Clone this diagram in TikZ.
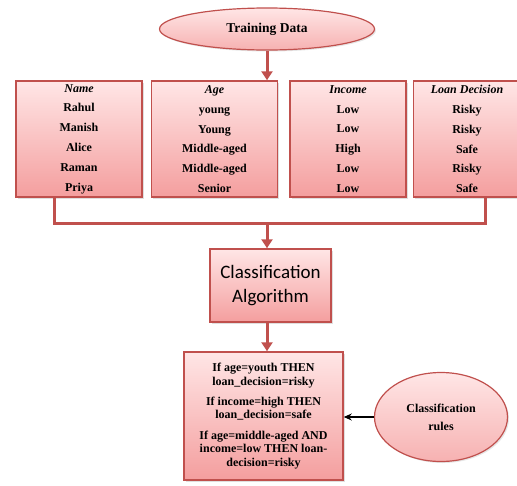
\documentclass[tikz,border=0pt]{standalone}
\usepackage{fontspec}
\setmainfont{Liberation Serif}
\newfontfamily\calibri{Carlito}
\usetikzlibrary{positioning,shapes.geometric,arrows.meta,shadows}

\definecolor{edgered}{RGB}{192,80,77}
\definecolor{pinktop}{RGB}{255,230,230}
\definecolor{pinkbot}{RGB}{244,158,158}

\tikzset{
  databox/.style={draw=edgered, line width=1.5pt, top color=pinktop, bottom color=pinkbot,
    align=center, inner sep=0pt, minimum height=116pt,
    font=\bfseries\fontsize{12}{19.8}\selectfont,
    drop shadow={opacity=0.25, shadow xshift=1.5pt, shadow yshift=-1.5pt}},
  oval/.style={ellipse, draw=edgered, line width=1.2pt, top color=pinktop, bottom color=pinkbot!80,
    align=center, inner sep=0pt, font=\bfseries,
    drop shadow={opacity=0.2, shadow xshift=1.5pt, shadow yshift=-1.5pt}},
  feed/.style={draw=edgered, line width=3pt, -{Triangle[length=9pt,width=11pt]}},
  bus/.style={draw=edgered, line width=3pt},
}

\begin{document}
\begin{tikzpicture}[x=1pt,y=-1pt]
  \useasboundingbox (0,0) rectangle (517,485);

  % training data and the four columns
  \node [oval, minimum width=215pt, minimum height=42pt,
         font=\bfseries\fontsize{13.5}{16}\selectfont] (train) at (267,29) {Training Data};
  \node [databox, minimum width=126pt] (name) at (79,139)
        {\textit{Name}\\Rahul\\Manish\\Alice\\Raman\\Priya};
  \node [databox, minimum width=126pt, right=8pt of name] (age)
        {\textit{Age}\\young\\Young\\Middle-aged\\Middle-aged\\Senior};
  \node [databox, minimum width=116pt, right=11pt of age] (income)
        {\textit{Income}\\Low\\Low\\High\\Low\\Low};
  \node [databox, minimum width=107pt, right=6pt of income] (loan)
        {\textit{Loan Decision}\\Risky\\Risky\\Safe\\Risky\\Safe};

  % algorithm and rules
  \node [databox, minimum width=121pt, minimum height=73pt,
         font=\calibri\fontsize{19}{24.5}\selectfont] (algo) at (270.5,285.5)
        {Classification\\Algorithm};
  \node [databox, minimum width=159pt, minimum height=128pt,
         font=\bfseries\fontsize{12}{13.7}\selectfont] (rules) at (263.5,416)
        {If age=youth THEN\\loan\_decision=risky\\[6.5pt]
         If income=high THEN\\loan\_decision=safe\\[6.5pt]
         If age=middle-aged AND\\income=low THEN loan-\\decision=risky};
  \node [oval, minimum width=133pt, minimum height=89pt,
         font=\bfseries\fontsize{12}{18}\selectfont] (crules) at (441,417)
        {Classification\\rules};

  \coordinate (join) at (267,223);

  \draw [feed] (train.south) -- (train.south |- income.north);
  \draw [bus] ([xshift=-25pt]name.south) |- (join) -| ([xshift=18pt]loan.south);
  \draw [feed] (join) -- (join |- algo.north);
  \draw [feed] (join |- algo.south) -- (join |- rules.north);
  \draw [line width=1.2pt, -{Stealth[length=8pt,width=7pt]}] (crules.west) -- (crules.west -| rules.east);
\end{tikzpicture}
\end{document}
